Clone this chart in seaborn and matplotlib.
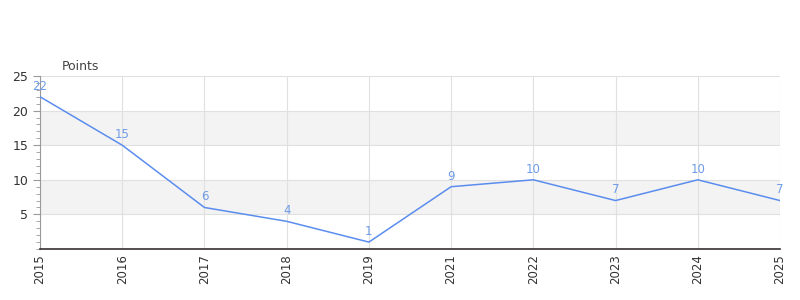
import matplotlib
matplotlib.use("Agg")
import matplotlib.pyplot as plt
import seaborn as sns
import pandas as pd
from matplotlib.ticker import MultipleLocator

years = ["2015", "2016", "2017", "2018", "2019", "2021", "2022", "2023", "2024", "2025"]
points = [22, 15, 6, 4, 1, 9, 10, 7, 10, 7]

df = pd.DataFrame({"year": years, "points": points})

sns.set_style("white")
plt.rcParams['font.family'] = ['DejaVu Sans']

fig = plt.figure(figsize=(8, 3), dpi=100)
ax = fig.add_axes([0.05, 0.17, 0.925, 0.5767])

x = list(range(len(years)))
df["x"] = x
for lo, hi in [(5, 10), (15, 20)]:
    ax.axhspan(lo, hi, color="#f3f3f3", zorder=0, lw=0)

sns.lineplot(data=df, x="x", y="points", ax=ax, color="#5b8def", linewidth=1.1, zorder=3)

for xi, v in zip(x, points):
    ax.text(xi, v + 0.6, str(v), color="#6f9be8", fontsize=8.5, ha="center", va="bottom", zorder=4)

ax.set_xlim(0, len(years) - 1)
ax.set_ylim(0, 25)
ax.set_xticks(x)
ax.set_xticklabels(years, rotation=90, fontsize=8.5, color="#333333")
ax.set_yticks([5, 10, 15, 20, 25])
ax.set_yticklabels(["5", "10", "15", "20", "25"], fontsize=9, color="#333333")
ax.yaxis.set_minor_locator(MultipleLocator(1))
ax.tick_params(axis="y", which="major", length=5, color="#999999", left=True)
ax.tick_params(axis="y", which="minor", length=3, color="#999999", left=True)
ax.tick_params(axis="x", length=0, pad=4)

ax.grid(True, axis="both", color="#e0e0e0", linewidth=0.8, zorder=1)
ax.set_axisbelow(True)

for s in ["top", "right"]:
    ax.spines[s].set_visible(False)
ax.spines["left"].set_color("#999999")
ax.spines["left"].set_linewidth(0.8)
ax.spines["bottom"].set_color("#333333")
ax.spines["bottom"].set_linewidth(1.2)
ax.axhline(0, color="#cc0000", linewidth=0.8, zorder=5)

ax.set_xlabel("")
ax.set_ylabel("")
fig.text(62 / 800, 1 - 66 / 300, "Points", fontsize=9, color="#444444", ha="left", va="center")

fig.savefig("out.png", dpi=100)
